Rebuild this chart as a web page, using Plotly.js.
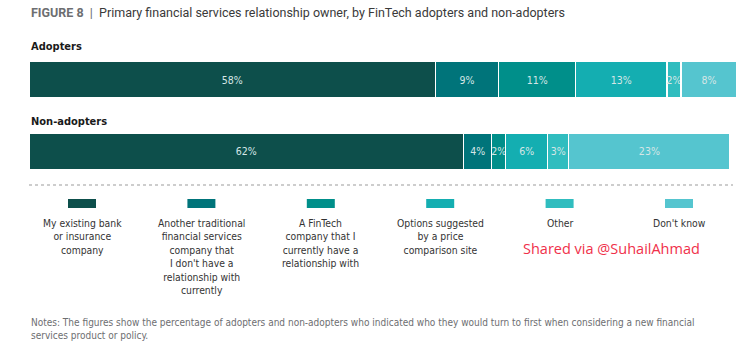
<!DOCTYPE html>
<html>
<head>
<meta charset="utf-8">
<script src="https://cdn.plot.ly/plotly-3.0.1.min.js"></script>
<style>html,body{margin:0;padding:0;background:#fff;}#chart{width:755px;height:355px;}</style>
</head>
<body>
<div id="chart"></div>
<script>
// ---- Data ----
const groups = ["Adopters", "Non-adopters"];
const categories = [
  "My existing bank<br>or insurance<br>company",
  "Another traditional<br>financial services<br>company that<br>I don't have a<br>relationship with<br>currently",
  "A FinTech<br>company that I<br>currently have a<br>relationship with",
  "Options suggested<br>by a price<br>comparison site",
  "Other",
  "Don't know"
];
const adopters    = [58, 9, 11, 13, 2, 8];
const nonAdopters = [62, 4, 2, 6, 3, 23];
const colors = ["#0d4f4b", "#00747a", "#008f8a", "#14aeb1", "#30bdbf", "#55c5cf"];

const titleText = "<b>FIGURE 8</b>  |  <span style='color:#3a3a3a'>Primary financial services relationship owner, by FinTech adopters and non-adopters</span>";
const notesText = "Notes: The figures show the percentage of adopters and non-adopters who indicated who they would turn to first when considering a new financial<br>services product or policy.";
const watermark = "Shared via @SuhailAhmad";

// ---- Layout geometry ----
const W = 755, H = 355;
const mL = 29, mR = 18, mT = 44, plotH = 143;
const mB = H - mT - plotH;
const plotW = W - mL - mR;
const py = p => (mT + plotH - p) / plotH;   // pixel y -> paper y
const px = p => (p - mL) / plotW;           // pixel x -> paper x

const condensed = "'Liberation Sans Narrow', 'DejaVu Sans Condensed', sans-serif";

const traces = categories.map((c, i) => ({
  type: "bar",
  orientation: "h",
  name: c,
  y: groups,
  x: [adopters[i], nonAdopters[i]],
  marker: { color: colors[i], line: { color: "#ffffff", width: 1.2 } },
  text: [adopters[i] + "%", nonAdopters[i] + "%"],
  textposition: "inside",
  insidetextanchor: "middle",
  textangle: 0,
  constraintext: "none",
  textfont: { family: condensed, size: 10.5, color: "#d6e6e6" },
  hoverinfo: "skip",
  showlegend: false
}));

const annotations = [
  { text: titleText, x: 0, y: py(12), xref: "paper", yref: "paper", xanchor: "left", yanchor: "middle",
    showarrow: false, font: { family: "Roboto, sans-serif", size: 12.5, color: "#6d6e71" } },
  { text: "<b>Adopters</b>", x: 0, y: py(47), xref: "paper", yref: "paper", xanchor: "left", yanchor: "middle",
    showarrow: false, font: { family: condensed, size: 11, color: "#1a1a1a" } },
  { text: "<b>Non-adopters</b>", x: 0, y: py(121), xref: "paper", yref: "paper", xanchor: "left", yanchor: "middle",
    showarrow: false, font: { family: condensed, size: 11, color: "#1a1a1a" } },
  { text: notesText, x: 0, y: py(315), xref: "paper", yref: "paper", xanchor: "left", yanchor: "top", align: "left",
    showarrow: false, font: { family: condensed, size: 10, color: "#6d6e71" } },
  { text: watermark, x: px(611), y: py(248), xref: "paper", yref: "paper", xanchor: "center", yanchor: "middle",
    showarrow: false, font: { family: "'Open Sans', sans-serif", size: 14.5, color: "#f0304a" } }
];

const shapes = [
  { type: "line", xref: "paper", yref: "paper", x0: 0, x1: px(733), y0: py(185), y1: py(185),
    line: { color: "#bdbdbd", width: 1.5, dash: "dot" } }
];

const c0 = 82, step = 119.4;
categories.forEach((c, i) => {
  const cx = c0 + i * step;
  shapes.push({ type: "rect", xref: "paper", yref: "paper",
    x0: px(cx - 14), x1: px(cx + 14), y0: py(208), y1: py(199),
    fillcolor: colors[i], line: { width: 0 } });
  annotations.push({ text: c, x: px(cx), y: py(215), xref: "paper", yref: "paper",
    xanchor: "center", yanchor: "top", align: "center", showarrow: false,
    font: { family: condensed, size: 10.3, color: "#333333" } });
});

const layout = {
  width: W, height: H,
  margin: { l: mL, r: mR, t: mT, b: mB, pad: 0 },
  paper_bgcolor: "#ffffff", plot_bgcolor: "#ffffff",
  barmode: "stack",
  bargap: 0.5,
  xaxis: { range: [0, 101], visible: false, fixedrange: true },
  yaxis: { type: "category", categoryarray: groups, range: [1.5, -0.5], visible: false, fixedrange: true },
  shapes: shapes,
  annotations: annotations,
  showlegend: false
};

Plotly.newPlot("chart", traces, layout, { displayModeBar: false, staticPlot: true });
</script>
</body>
</html>
